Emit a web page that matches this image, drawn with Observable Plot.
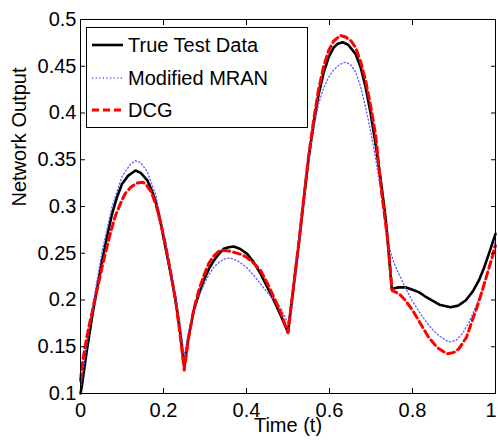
<!DOCTYPE html>
<html>
<head>
<meta charset="utf-8">
<script src="https://cdn.jsdelivr.net/npm/d3@7"></script>
<script src="https://cdn.jsdelivr.net/npm/@observablehq/plot@0.6"></script>
<style>
  body { margin: 0; background: #fff; }
  #wrap { position: relative; width: 498px; height: 440px; font-family: "Liberation Sans", Arial, Helvetica, sans-serif; }
  #legend { position: absolute; left: 86px; top: 27px; width: 220px; height: 99px; border: 1px solid #000; background: #fff; }
  .row { position: absolute; left: 0; height: 30px; display: flex; align-items: center; font-size: 20px; color: #000; }
  .row svg { margin-left: 5px; margin-right: 5px; }
</style>
</head>
<body>
<div id="wrap"></div>
<script>
// ---- data ----
const seriesNames = ["True Test Data", "Modified MRAN", "DCG"];

const tTrue = [0,0.004,0.015,0.028,0.04,0.052,0.064,0.076,0.088,0.1,0.115,0.1325,0.145,0.161,0.17,0.181,0.193,0.205,0.217,0.229,0.24,0.25,
  0.26,0.273,0.285,0.297,0.309,0.321,0.333,0.345,0.357,0.3695,0.385,0.4016,0.418,0.434,0.45,0.466,0.483,0.5,
  0.513,0.526,0.538,0.55,0.562,0.574,0.586,0.598,0.61,0.62,0.632,0.645,0.6627,0.675,0.687,0.699,0.711,0.723,0.735,0.742,0.75,
  0.767,0.783,0.8,0.815,0.83,0.847,0.865,0.8916,0.91,0.928,0.945,0.96,0.972,0.984,0.992,1];
const vTrue = [0.100,0.110,0.145,0.182,0.213,0.242,0.268,0.292,0.310,0.324,0.333,0.3385,0.336,0.328,0.319,0.306,0.283,0.256,0.229,0.200,0.166,0.128,
  0.160,0.189,0.206,0.221,0.233,0.242,0.249,0.2547,0.2565,0.2572,0.2545,0.2494,0.240,0.228,0.214,0.1995,0.183,0.1656,
  0.213,0.260,0.307,0.3527,0.389,0.4205,0.443,0.4597,0.470,0.474,0.4757,0.473,0.4633,0.449,0.4276,0.400,0.367,0.330,0.2886,0.255,0.212,
  0.2135,0.2137,0.211,0.2084,0.204,0.1995,0.195,0.1923,0.194,0.1995,0.209,0.2209,0.234,0.2494,0.260,0.2708];

const tMran = [0,0.01,0.028,0.052,0.076,0.1,0.12,0.1325,0.145,0.161,0.181,0.205,0.229,0.24,0.25,
  0.26,0.273,0.285,0.297,0.309,0.321,0.333,0.345,0.361,0.38,0.4,0.42,0.44,0.46,0.482,0.5,
  0.513,0.526,0.538,0.55,0.562,0.574,0.586,0.598,0.61,0.625,0.6386,0.65,0.663,0.675,0.687,0.699,0.711,0.723,0.735,0.745,0.755,
  0.767,0.783,0.799,0.815,0.831,0.847,0.863,0.8875,0.905,0.92,0.936,0.952,0.964,0.976,0.988,0.996,1];
const vMran = [0.105,0.135,0.190,0.252,0.300,0.332,0.345,0.349,0.347,0.337,0.313,0.262,0.205,0.175,0.140,
  0.165,0.188,0.203,0.216,0.227,0.235,0.240,0.2435,0.245,0.2415,0.235,0.225,0.2137,0.203,0.192,0.175,
  0.215,0.262,0.307,0.350,0.384,0.410,0.427,0.4383,0.446,0.452,0.4544,0.452,0.444,0.428,0.406,0.381,0.352,0.318,0.280,0.255,0.240,
  0.228,0.213,0.1995,0.188,0.178,0.169,0.162,0.155,0.157,0.1638,0.176,0.1923,0.206,0.221,0.240,0.257,0.265];

const tDcg = [0,0.004,0.01,0.02,0.04,0.052,0.07,0.084,0.1,0.108,0.12,0.135,0.15,0.157,0.17,0.181,0.193,0.205,0.217,0.229,0.24,0.25,
  0.26,0.273,0.285,0.297,0.309,0.321,0.333,0.345,0.357,0.37,0.385,0.4,0.418,0.434,0.45,0.466,0.483,0.5,
  0.513,0.526,0.538,0.55,0.562,0.574,0.586,0.598,0.61,0.6265,0.64,0.652,0.663,0.675,0.687,0.699,0.711,0.727,0.74,0.751,
  0.767,0.783,0.8,0.815,0.839,0.86,0.8835,0.9,0.9116,0.93,0.944,0.956,0.968,0.98,0.992,1];
const vDcg = [0.114,0.130,0.148,0.171,0.211,0.235,0.268,0.290,0.307,0.314,0.320,0.325,0.326,0.324,0.316,0.303,0.283,0.258,0.230,0.200,0.163,0.125,
  0.158,0.190,0.210,0.226,0.239,0.247,0.252,0.253,0.2525,0.251,0.249,0.2458,0.239,0.2316,0.218,0.203,0.186,0.165,
  0.213,0.261,0.309,0.355,0.393,0.426,0.450,0.4668,0.477,0.483,0.481,0.477,0.470,0.455,0.4348,0.408,0.377,0.310,0.265,0.210,
  0.207,0.1995,0.189,0.178,0.160,0.149,0.1424,0.144,0.1477,0.160,0.178,0.193,0.210,0.228,0.2458,0.258];

const xTicks = [0, 0.2, 0.4, 0.6, 0.8, 1];
const yTicks = [0.1, 0.15, 0.2, 0.25, 0.3, 0.35, 0.4, 0.45, 0.5];
const xLabel = "Time (t)";
const yLabel = "Network Output";

// ---- build tables ----
const trueData = tTrue.map((t, i) => ({t, v: vTrue[i]}));
const mranData = tMran.map((t, i) => ({t, v: vMran[i]}));
const dcgData = tDcg.map((t, i) => ({t, v: vDcg[i]}));

const styles = [
  {stroke: "#000000", strokeWidth: 2.6, dash: null},
  {stroke: "#5a5aff", strokeWidth: 1.3, dash: "1.2,2.4"},
  {stroke: "#ff0000", strokeWidth: 3, dash: "7,4"}
];

const font = "'Liberation Sans', Arial, Helvetica, sans-serif";
const fs = 20;
const xInner = xTicks.slice(0, -1);
const xLast = xTicks.slice(-1);

const chart = Plot.plot({
  width: 498,
  height: 440,
  marginLeft: 80,
  marginRight: 3,
  marginTop: 19,
  marginBottom: 47,
  style: {fontFamily: font, fontSize: fs + "px", background: "#fff", color: "#000"},
  x: {domain: [0, 1]},
  y: {domain: [0.1, 0.5]},
  marks: [
    Plot.line(trueData, {x: "t", y: "v", stroke: styles[0].stroke, strokeWidth: styles[0].strokeWidth, strokeLinejoin: "round"}),
    Plot.line(mranData, {x: "t", y: "v", stroke: styles[1].stroke, strokeWidth: styles[1].strokeWidth, strokeDasharray: styles[1].dash}),
    Plot.line(dcgData, {x: "t", y: "v", stroke: styles[2].stroke, strokeWidth: styles[2].strokeWidth, strokeDasharray: styles[2].dash}),
    // inward tick marks on all four sides
    Plot.axisX(xTicks, {anchor: "bottom", tickSize: 5, dy: -5, tickFormat: () => "", label: null}),
    Plot.axisX(xTicks, {anchor: "top", tickSize: 5, dy: 5, tickFormat: () => "", label: null}),
    Plot.axisY(yTicks, {anchor: "left", tickSize: 5, dx: 5, tickFormat: () => "", label: null}),
    Plot.axisY(yTicks, {anchor: "right", tickSize: 5, dx: -5, tickFormat: () => "", label: null}),
    // tick labels
    Plot.axisX(xInner, {anchor: "bottom", tickSize: 0, tickPadding: 9, fontSize: fs, label: null, tickFormat: d => String(d)}),
    Plot.axisX(xLast, {anchor: "bottom", tickSize: 0, tickPadding: 9, fontSize: fs, label: null, textAnchor: "end", dx: 1, tickFormat: d => String(d)}),
    Plot.axisY(yTicks, {anchor: "left", tickSize: 0, tickPadding: 4, fontSize: fs, label: null, tickFormat: d => String(d)}),
    Plot.frame({stroke: "#000", strokeWidth: 1}),
    Plot.text([xLabel], {text: d => d, frameAnchor: "bottom", dy: 38, fontSize: fs, fill: "#000"}),
    Plot.text([yLabel], {text: d => d, frameAnchor: "left", dx: -61, rotate: -90, fontSize: fs, fill: "#000"})
  ]
});

const wrap = document.getElementById("wrap");
wrap.appendChild(chart);

// legend
const legend = document.createElement("div");
legend.id = "legend";
const rowCenters = [17, 50, 82];
seriesNames.forEach((name, i) => {
  const row = document.createElement("div");
  row.className = "row";
  row.style.top = (rowCenters[i] - 15) + "px";
  const s = styles[i];
  row.innerHTML = `<svg width="31" height="10"><line x1="0" y1="5" x2="31" y2="5" stroke="${s.stroke}" stroke-width="${s.strokeWidth}" ${s.dash ? `stroke-dasharray="${s.dash}"` : ""}/></svg><span>${name}</span>`;
  legend.appendChild(row);
});
wrap.appendChild(legend);
</script>
</body>
</html>
